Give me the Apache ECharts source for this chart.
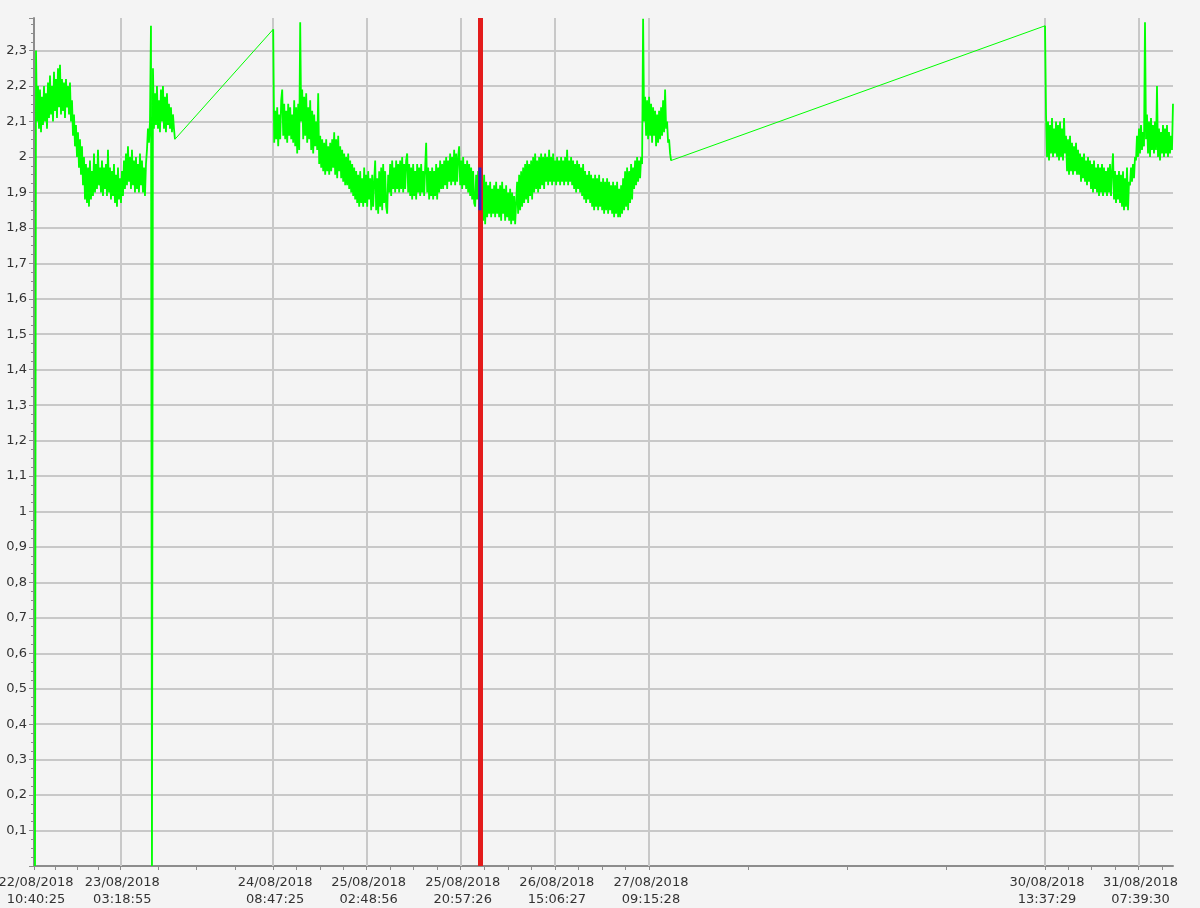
<!DOCTYPE html>
<html><head><meta charset="utf-8">
<script src="https://cdn.jsdelivr.net/npm/echarts@6/dist/echarts.min.js"></script>
<style>html,body{margin:0;padding:0;background:#f4f4f4}#c{width:1200px;height:908px}</style>
</head><body><div id="c"></div>
<script>
// ---- axis range and labelled ticks ----
const axisStart = '2018-08-22T10:40:25Z';
const axisEnd = '2018-08-31T14:18:40Z';
const majorTickTimes = [
  '2018-08-22T10:40:25Z', '2018-08-23T03:18:55Z', '2018-08-24T08:47:25Z',
  '2018-08-25T02:48:56Z', '2018-08-25T20:57:26Z', '2018-08-26T15:06:27Z',
  '2018-08-27T09:15:28Z', '2018-08-30T13:37:29Z', '2018-08-31T07:39:30Z'
];
const minorPerMajor = 4;
const yMin = 0, yMax = 2.392, yStep = 0.1;

// ---- measurements (sampled every stepSeconds inside each recorded block) ----
const stepSeconds = 694;
const segAStart = '2018-08-22T10:51:59Z';
const segA = [
  0, 2.30, 2.10, 2.20, 2.08, 2.19, 2.07, 2.17, 2.09, 2.20,
  2.10, 2.18, 2.08, 2.21, 2.11, 2.23, 2.12, 2.20, 2.10, 2.24,
  2.13, 2.22, 2.11, 2.25, 2.14, 2.26, 2.12, 2.22, 2.13, 2.21,
  2.11, 2.22, 2.14, 2.20, 2.12, 2.21, 2.10, 2.16, 2.06, 2.12,
  2.03, 2.09, 2.00, 2.07, 1.97, 2.05, 1.95, 2.03, 1.92, 2.00,
  1.88, 1.98, 1.87, 1.97, 1.86, 1.99, 1.88, 1.96, 1.89, 2.01,
  1.90, 1.98, 1.91, 2.02, 1.92, 1.97, 1.90, 1.99, 1.89, 1.97,
  1.91, 1.98, 1.89, 2.02, 1.90, 1.97, 1.88, 1.96, 1.89, 1.98,
  1.87, 1.95, 1.86, 1.97, 1.88, 1.94, 1.87, 1.96, 1.89, 1.99,
  1.91, 2.01, 1.92, 2.03, 1.93, 2.00, 1.91, 2.02, 1.92, 1.99,
  1.90, 2.00, 1.91, 1.98, 1.90, 2.01, 1.92, 1.99, 1.90, 1.97,
  1.89, 1.98, 2.02, 2.08, 2.04, 2.10, 2.37, 0, 2.25, 2.08,
  2.18, 2.09, 2.20, 2.08, 2.16, 2.07, 2.19, 2.10, 2.20, 2.08,
  2.17, 2.07, 2.18, 2.09, 2.15, 2.08, 2.14, 2.07, 2.12, 2.08,
  2.05
];
const segBStart = '2018-08-24T08:48:00Z';
const segB = [
  2.36, 2.04, 2.13, 2.05, 2.14, 2.03, 2.12, 2.05, 2.16, 2.19,
  2.06, 2.15, 2.05, 2.13, 2.04, 2.15, 2.06, 2.14, 2.05, 2.12,
  2.04, 2.16, 2.03, 2.14, 2.01, 2.15, 2.02, 2.38, 2.10, 2.19,
  2.05, 2.17, 2.06, 2.18, 2.04, 2.14, 2.05, 2.16, 2.02, 2.13,
  2.01, 2.12, 2.03, 2.10, 2.02, 2.18, 1.98, 2.06, 1.97, 2.05,
  1.96, 2.04, 1.95, 2.05, 1.96, 2.03, 1.95, 2.04, 1.96, 2.05,
  1.97, 2.07, 1.95, 2.05, 1.94, 2.06, 1.96, 2.03, 1.94, 2.02,
  1.93, 2.01, 1.92, 2.00, 1.92, 2.01, 1.91, 1.99, 1.90, 1.98,
  1.89, 1.97, 1.88, 1.96, 1.87, 1.95, 1.86, 1.96, 1.87, 1.94,
  1.86, 1.97, 1.87, 1.95, 1.86, 1.96, 1.88, 1.94, 1.85, 1.95,
  1.86, 1.93, 1.99, 1.85, 1.94, 1.84, 1.96, 1.86, 1.97, 1.85,
  1.98, 1.87, 1.96, 1.86, 1.84, 1.95, 1.90, 1.98, 1.89, 1.99,
  1.91, 1.97, 1.90, 1.99, 1.91, 1.98, 1.90, 1.99, 1.91, 2.00,
  1.90, 1.98, 1.91, 1.99, 2.01, 1.90, 1.98, 1.89, 1.97, 1.88,
  1.98, 1.89, 1.96, 1.88, 1.98, 1.90, 1.97, 1.89, 1.98, 1.90,
  1.96, 1.89, 1.97, 2.04, 1.90, 1.97, 1.88, 1.96, 1.89, 1.97,
  1.88, 1.96, 1.89, 1.98, 1.88, 1.97, 1.90, 1.99, 1.91, 1.98,
  1.91, 1.99, 1.92, 2.00, 1.91, 1.99, 1.93, 2.01, 1.92, 2.00,
  1.93, 2.02, 1.92, 2.01, 1.93, 2.00, 2.03, 1.92, 1.99, 1.91,
  2.00, 1.92, 1.98, 1.91, 1.99, 1.90, 1.98, 1.89, 1.97, 1.88,
  1.96, 1.87, 1.86, 1.95, 1.88, 1.96, 1.86, 1.95, 1.83, 1.94,
  1.82, 1.95, 1.81, 1.93, 1.83, 1.92, 1.84, 1.93, 1.83, 1.91,
  1.84, 1.92, 1.83, 1.93, 1.84, 1.91, 1.83, 1.92, 1.82, 1.93,
  1.84, 1.91, 1.82, 1.92, 1.83, 1.90, 1.82, 1.91, 1.81, 1.90,
  1.82, 1.89, 1.81, 1.81, 1.93, 1.84, 1.95, 1.85, 1.96, 1.86,
  1.97, 1.87, 1.98, 1.88, 1.99, 1.87, 1.98, 1.89, 1.99, 1.88,
  2.00, 1.90, 2.01, 1.91, 1.99, 1.90, 2.00, 1.91, 2.01, 1.92,
  2.00, 1.91, 2.01, 1.93, 2.00, 1.92, 2.02, 1.93, 2.00, 1.92,
  2.01, 1.93, 1.99, 1.92, 2.00, 1.93, 1.99, 1.92, 2.00, 1.93,
  1.99, 1.92, 2.00, 1.93, 2.02, 1.92, 1.99, 1.93, 2.00, 1.92,
  1.99, 1.91, 1.98, 1.90, 1.99, 1.91, 1.98, 1.90, 1.97, 1.89,
  1.98, 1.88, 1.96, 1.87, 1.95, 1.88, 1.96, 1.87, 1.95, 1.86,
  1.94, 1.85, 1.95, 1.86, 1.94, 1.85, 1.95, 1.86, 1.93, 1.85,
  1.94, 1.84, 1.93, 1.85, 1.94, 1.84, 1.93, 1.85, 1.92, 1.84,
  1.93, 1.83, 1.92, 1.84, 1.93, 1.83, 1.91, 1.83, 1.92, 1.84,
  1.94, 1.85, 1.96, 1.86, 1.97, 1.85, 1.96, 1.87, 1.98, 1.88,
  1.97, 1.91, 1.99, 1.92, 2.00, 1.93, 1.99, 1.94, 2.00, 1.98,
  2.39, 2.10, 2.17, 2.06, 2.16, 2.05, 2.17, 2.06, 2.15, 2.04,
  2.14, 2.06, 2.13, 2.03, 2.12, 2.04, 2.13, 2.05, 2.14, 2.06,
  2.16, 2.07, 2.19, 2.08, 2.10, 2.04, 2.05, 2.01, 1.99
];
const segCStart = '2018-08-30T13:38:00Z';
const segC = [
  2.37, 2.12, 2.00, 2.10, 1.99, 2.09, 2.01, 2.11, 2.00, 2.08,
  2.01, 2.10, 2.00, 2.09, 1.99, 2.10, 2.00, 2.08, 1.99, 2.11,
  2.01, 2.06, 1.96, 2.05, 1.95, 2.06, 1.96, 2.04, 1.95, 2.03,
  1.96, 2.04, 1.95, 2.02, 1.95, 2.01, 1.93, 2.00, 1.94, 2.01,
  1.93, 1.99, 1.92, 2.00, 1.93, 1.99, 1.91, 1.98, 1.90, 1.99,
  1.91, 1.97, 1.90, 1.98, 1.89, 1.97, 1.90, 1.98, 1.89, 1.97,
  1.90, 1.96, 1.89, 1.97, 1.90, 1.98, 1.89, 1.96, 2.01, 1.88,
  1.96, 1.87, 1.95, 1.88, 1.96, 1.87, 1.95, 1.86, 1.96, 1.85,
  1.94, 1.86, 1.97, 1.85, 1.93, 1.92, 1.97, 1.93, 1.98, 1.94,
  2.00, 1.99, 2.06, 2.00, 2.08, 2.01, 2.09, 2.02, 2.07, 2.03,
  2.38, 2.05, 2.12, 2.01, 2.10, 2.00, 2.11, 2.02, 2.09, 2.01,
  2.10, 2.02, 2.20, 2.00, 2.08, 1.99, 2.07, 2.01, 2.09, 2.00,
  2.08, 2.01, 2.09, 2.00, 2.07, 2.01, 2.06, 2.02, 2.15
];
// ---- cursor (red) and selected sample (blue) ----
const cursorTime = '2018-08-26T00:40:00Z';
const cursorValues = [1.97, 1.85];

// ---- build ----
const T = s => Date.parse(s);
function seg(start, vals) { const t0 = T(start); return vals.map((v, i) => [t0 + i * stepSeconds * 1000, v]); }
const dataA = seg(segAStart, segA), dataB = seg(segBStart, segB), dataC = seg(segCStart, segC);
const gapAB = [dataA[dataA.length - 1], dataB[0]];
const gapBC = [dataB[dataB.length - 1], dataC[0]];
const majors = majorTickTimes.map(T);
const ticks = majors.slice();
for (let i = 0; i < majors.length; i++) {
  const gap = (i < majors.length - 1 ? majors[i + 1] : majors[i] + (majors[i] - majors[i - 1])) - majors[i];
  for (let k = 1; k < minorPerMajor; k++) {
    const t = majors[i] + gap * k / minorPerMajor;
    if (t <= T(axisEnd)) ticks.push(t);
  }
}
const p2 = n => String(n).padStart(2, '0');
function fmtTime(v) {
  const d = new Date(v);
  return p2(d.getUTCDate()) + '/' + p2(d.getUTCMonth() + 1) + '/' + d.getUTCFullYear() + '\n' +
    p2(d.getUTCHours()) + ':' + p2(d.getUTCMinutes()) + ':' + p2(d.getUTCSeconds());
}
const axisGrey = '#8c8c8c', gridGrey = '#c8c8c8', font = 'DejaVu Sans', lime = '#00ff00';
function lineSeries(data, width, extra) {
  return Object.assign({ type: 'line', data: data, showSymbol: false, symbol: 'none', sampling: false, silent: true, z: 3,
    lineStyle: { color: lime, width: width } }, extra || {});
}
const chart = echarts.init(document.getElementById('c'), null, { renderer: 'canvas' });
chart.setOption({
  backgroundColor: '#f4f4f4',
  animation: false,
  grid: { left: 34, right: 27, top: 18, bottom: 42, containLabel: false, outerBoundsMode: 'none' },
  xAxis: {
    type: 'value', min: T(axisStart), max: T(axisEnd),
    axisLine: { show: true, onZero: false, lineStyle: { color: axisGrey, width: 2 } },
    axisTick: { show: true, customValues: ticks, length: 4, lineStyle: { color: axisGrey, width: 1 } },
    axisLabel: { customValues: majors, formatter: fmtTime, color: '#333', fontSize: 13, lineHeight: 17, margin: 8,
      fontFamily: font, padding: [0, 0, 0, 4] },
    splitLine: { show: false }
  },
  yAxis: {
    type: 'value', min: yMin, max: yMax, interval: yStep,
    axisLine: { show: true, lineStyle: { color: axisGrey, width: 2 } },
    axisTick: { show: true, length: 5, lineStyle: { color: axisGrey } },
    minorTick: { show: true, splitNumber: 4, length: 3, lineStyle: { color: axisGrey } },
    axisLabel: {
      color: '#333', fontSize: 13, margin: 7, fontFamily: font,
      formatter: v => { const r = Math.round(v * 10) / 10; if (r === 0 || Math.abs(v - r) > 1e-6) return ''; return String(r).replace('.', ','); }
    },
    splitLine: { show: true, showMinLine: false, showMaxLine: false, lineStyle: { color: gridGrey, width: 2 } }
  },
  series: [
    lineSeries(dataA, 1.8, {
      markLine: {
        silent: true, z: 1, symbol: ['none', 'none'], label: { show: false },
        lineStyle: { color: gridGrey, width: 2, type: 'solid' },
        emphasis: { disabled: true },
        data: majors.slice(1).map(t => ({ xAxis: t }))
      }
    }),
    lineSeries(dataB, 1.8),
    lineSeries(dataC, 1.8),
    lineSeries(gapAB, 1),
    lineSeries(gapBC, 1),
    {
      type: 'line', data: cursorValues.map(v => [T(cursorTime), v]), showSymbol: false, symbol: 'none',
      lineStyle: { color: '#1c30c8', width: 3 }, z: 7, silent: true,
      markLine: {
        silent: true, z: 6, symbol: ['none', 'none'], label: { show: false },
        lineStyle: { color: '#e31b1b', width: 5, type: 'solid' },
        emphasis: { disabled: true },
        data: [{ xAxis: T(cursorTime) }]
      }
    }
  ]
});
</script></body></html>
